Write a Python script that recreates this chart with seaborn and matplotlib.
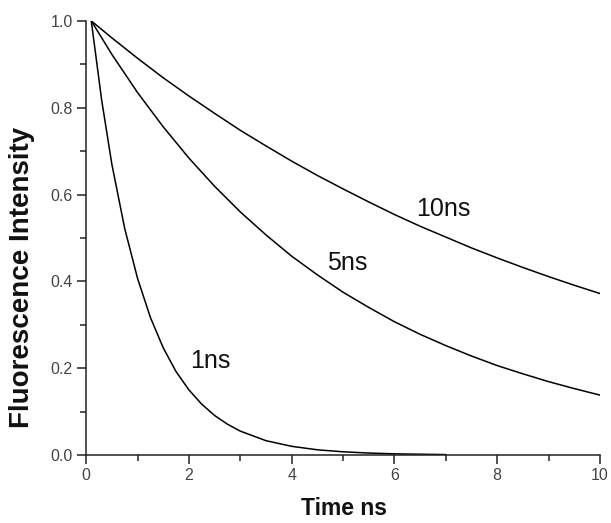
import matplotlib
matplotlib.use("Agg")
import matplotlib.pyplot as plt
import seaborn as sns
import pandas as pd
from matplotlib.ticker import MultipleLocator

# Data
t_1ns = [0.1, 0.3, 0.5, 0.75, 1.0, 1.25, 1.5, 1.75, 2.0, 2.25, 2.5, 2.75, 3.0, 3.5, 4.0, 4.5, 5.0, 5.5, 6.0, 7.0]
i_1ns = [1.0, 0.819, 0.670, 0.522, 0.407, 0.317, 0.247, 0.192, 0.150, 0.117, 0.091, 0.071, 0.055, 0.033, 0.020, 0.012, 0.0074, 0.0045, 0.0027, 0.001]

t_5ns = [0.1, 0.5, 1.0, 1.5, 2.0, 2.5, 3.0, 3.5, 4.0, 4.5, 5.0, 5.5, 6.0, 6.5, 7.0, 7.5, 8.0, 8.5, 9.0, 9.5, 10.0]
i_5ns = [1.0, 0.923, 0.835, 0.756, 0.684, 0.619, 0.560, 0.507, 0.458, 0.415, 0.375, 0.340, 0.307, 0.278, 0.252, 0.228, 0.206, 0.187, 0.169, 0.153, 0.138]

t_10ns = [0.1, 0.5, 1.0, 1.5, 2.0, 2.5, 3.0, 3.5, 4.0, 4.5, 5.0, 5.5, 6.0, 6.5, 7.0, 7.5, 8.0, 8.5, 9.0, 9.5, 10.0]
i_10ns = [1.0, 0.961, 0.914, 0.869, 0.827, 0.787, 0.748, 0.712, 0.677, 0.644, 0.613, 0.583, 0.554, 0.527, 0.502, 0.477, 0.454, 0.432, 0.411, 0.391, 0.372]

labels = ["1ns", "5ns", "10ns"]
label_pos_x = [2.41, 5.08, 6.95]
label_pos_y = [0.217, 0.442, 0.567]

frames = []
for name, t, v in zip(labels, [t_1ns, t_5ns, t_10ns], [i_1ns, i_5ns, i_10ns]):
    frames.append(pd.DataFrame({"Time": t, "Intensity": v, "Series": name}))
df = pd.concat(frames, ignore_index=True)

sns.set_style("ticks")
plt.rcParams["font.family"] = ["Liberation Sans", "DejaVu Sans"]

fig = plt.figure(figsize=(6.11, 5.23), dpi=100)
ax = fig.add_axes([0.141, 0.130, 0.841, 0.830])

sns.lineplot(data=df, x="Time", y="Intensity", hue="Series",
             palette=["black", "black", "black"], linewidth=1.1,
             legend=False, ax=ax, estimator=None, sort=False)

for lab, lx, ly in zip(labels, label_pos_x, label_pos_y):
    ax.text(lx, ly, lab, ha="center", va="center", fontsize=18, color="#111111")

ax.set_xlim(0, 10)
ax.set_ylim(0, 1.0)
ax.xaxis.set_major_locator(MultipleLocator(2))
ax.xaxis.set_minor_locator(MultipleLocator(1))
ax.yaxis.set_minor_locator(MultipleLocator(0.1))
ax.set_yticks([0, 0.2, 0.4, 0.6, 0.8, 1.0])
ax.set_yticklabels(["0.0", "0.2", "0.4", "0.6", "0.8", "1.0"])

ax.tick_params(axis="both", which="major", direction="out", length=6.5, width=1.1,
               labelsize=11.5, colors="#222222", labelcolor="#444444", pad=3)
ax.tick_params(axis="both", which="minor", direction="out", length=4, width=1.1,
               colors="#222222")

for s in ["top", "right"]:
    ax.spines[s].set_visible(False)
for s in ["left", "bottom"]:
    ax.spines[s].set_linewidth(1.1)
    ax.spines[s].set_color("#222222")

ax.set_xlabel("Time ns", fontsize=16.5, fontweight="bold", color="#111111")
ax.xaxis.set_label_coords(0.502, -0.097)
ax.set_ylabel("Fluorescence Intensity", fontsize=20, fontweight="bold", color="#111111")
ax.yaxis.set_label_coords(-0.10, 0.409)

fig.savefig("out.png", dpi=100)
